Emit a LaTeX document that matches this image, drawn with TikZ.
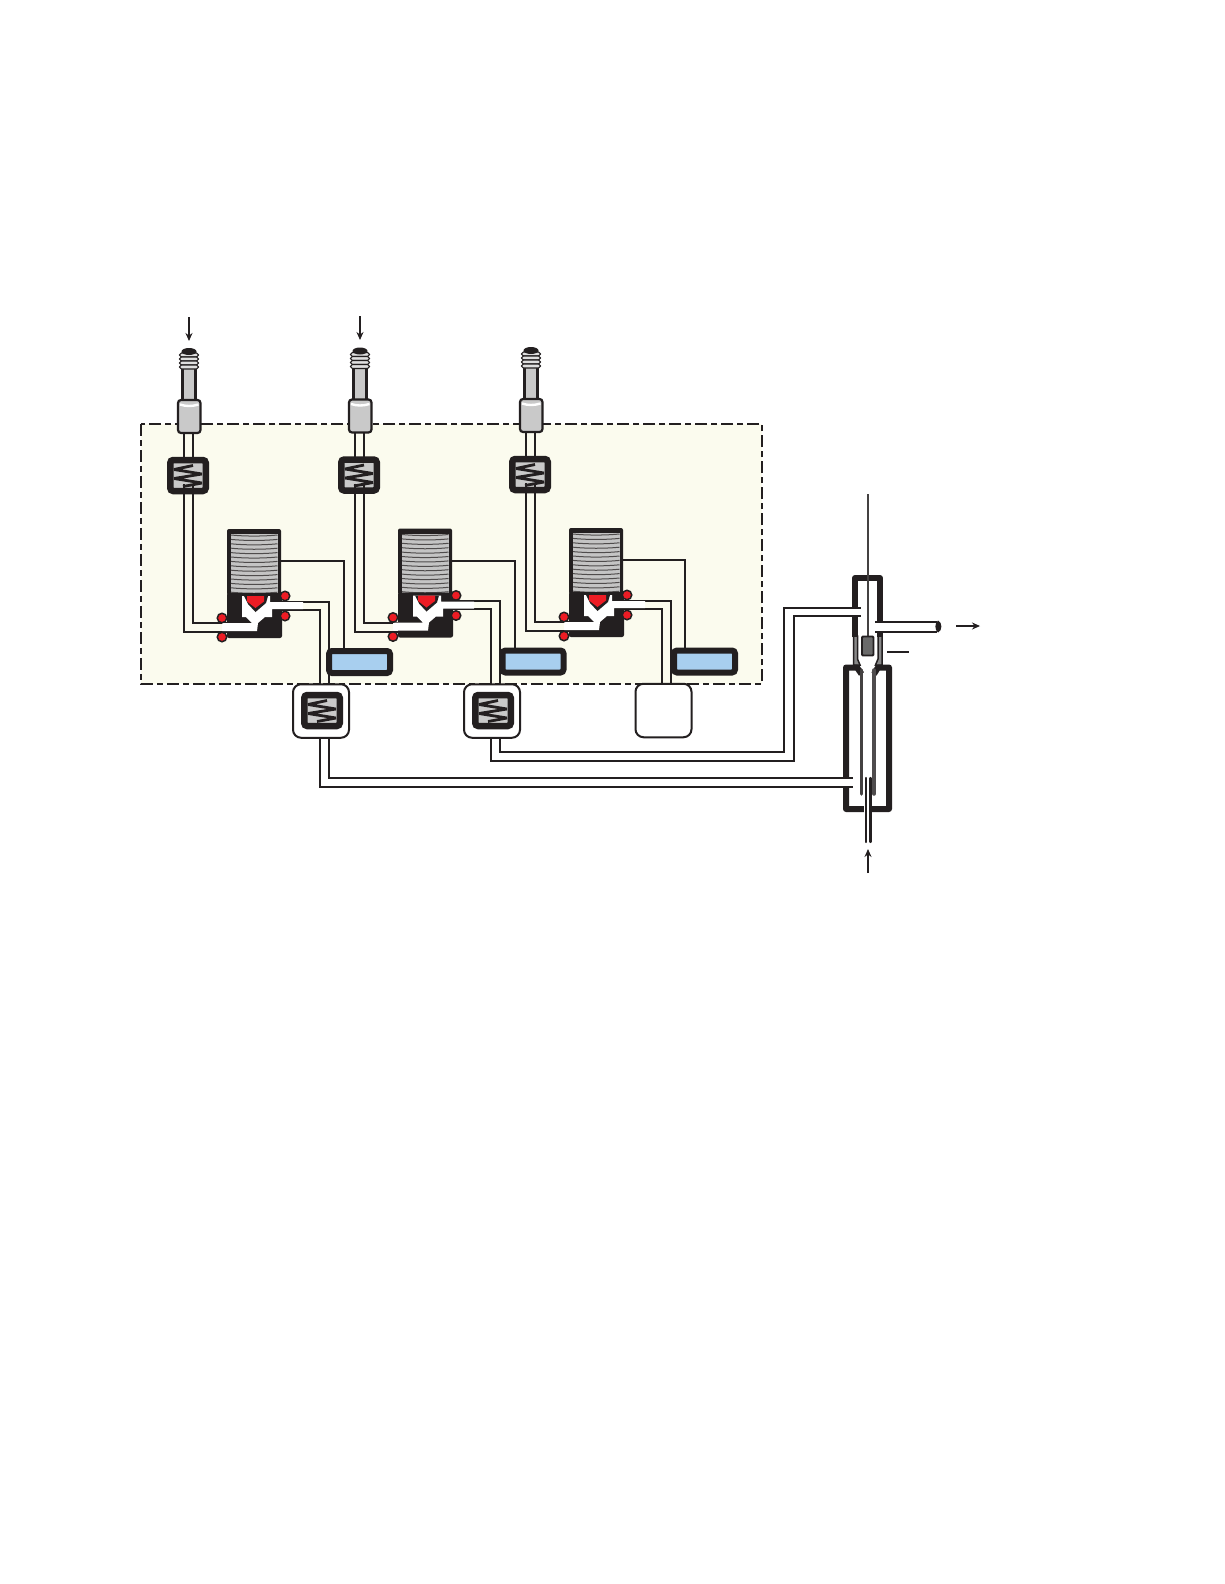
\documentclass[tikz,border=0pt]{standalone}
\usetikzlibrary{calc,arrows.meta}
\definecolor{ink}{HTML}{231F20}
\definecolor{cream}{HTML}{FBFBEE}
\definecolor{redd}{HTML}{ED1C24}
\definecolor{bluef}{HTML}{A8CFEF}
\definecolor{grayf}{HTML}{C9C9C9}
\definecolor{coilf}{HTML}{C4C4C4}
\definecolor{midg}{HTML}{6A6A6A}
\tikzset{
  pipe/.style={draw=ink,line width=2pt,line join=miter},
  wall/.style={draw=ink,line width=6pt,line join=round},
  thinarrow/.style={draw=ink,line width=1.2pt,-{Stealth[length=8pt,width=7pt]}},
  filterbox/.style={draw=ink,fill=grayf,line width=6.5pt,rounded corners=3pt,minimum width=35.5pt,minimum height=31pt,inner sep=0pt,outer sep=0pt},
  blueb/.style={draw=ink,fill=bluef,line width=6pt,rounded corners=3pt,minimum width=61pt,minimum height=22pt,inner sep=0pt,outer sep=0pt},
  housing/.style={draw=ink,fill=white,line width=2pt,rounded corners=8pt,minimum width=56pt,minimum height=53.5pt,inner sep=0pt,outer sep=0pt},
  spring/.style={draw=ink,line width=2.8pt,line join=bevel},
  reddot/.style={circle,draw=ink,fill=redd,line width=1.5pt,minimum size=9.5pt,inner sep=0pt},
  collar/.style={draw=ink,fill=grayf,line width=2.2pt},
}
\newcommand{\zigzag}[1]{%
  \draw[spring] ($(#1)+(5,-10)$)--($(#1)+(-14,-6)$)--($(#1)+(14,-1.5)$)--($(#1)+(-14,3)$)--($(#1)+(14,7.5)$)--($(#1)+(-5,11)$);}
\begin{document}
\begin{tikzpicture}[x=1pt,y=-1pt]
\useasboundingbox (0,0) rectangle (1224,1584);
\fill[white] (0,0) rectangle (1224,1584);
% oven
\draw[draw=ink,fill=cream,line width=2.2pt,dash pattern=on 12pt off 4pt on 6pt off 4pt] (141,424) rectangle (762,684);

\foreach \i/\dx/\dy in {1/0/0,2/171/-0.5,3/342/-1}{
\begin{scope}[shift={(\dx,\dy)}]
  % inlet pipes
  \draw[pipe] (184,432) -- (184,632) -- (232,632);
  \draw[pipe] (193,432) -- (193,623) -- (232,623);
  % outlet pipes
  \draw[pipe] (280,601.5) -- (328.5,601.5) -- (328.5,686);
  \draw[pipe] (280,609.5) -- (319.5,609.5) -- (319.5,686);
  % connector
  \draw[draw=ink,fill=grayf,line width=2.2pt] (182.5,366) rectangle (195.5,402);
  \foreach \t in {353,357,361,365}{\draw[draw=ink,fill=grayf!60!white,line width=1.1pt,rounded corners=1.8pt] (179.5,\t) rectangle (198.5,\t+4);}
  \fill[ink] (189,351.5) ellipse [x radius=7.5,y radius=3.5];
  \draw[collar,rounded corners=3pt] (178,400) rectangle (200.5,433);
  \draw[draw=white,line width=2.4pt] (180,404.5) .. controls (186,406.5) and (192,406.5) .. (198.5,404.5);
  \draw[ink,line width=2.2pt] (178,404) -- (178,410);
  % upper filter
  \node[filterbox] (flt\i) at (188,475.5) {};
  \zigzag{flt\i}
  \draw[pipe] (184,484) -- (184,491) (193,484) -- (193,491);
  % solenoid coil
  \fill[ink,rounded corners=2pt] (227,529) rectangle (281,595);
  \fill[coilf] (231,534) rectangle (277.5,593);
  \foreach \y in {535,539.4,...,593}{\draw[ink!80!white,line width=1pt] (231,\y) .. controls (245,\y+1.4) and (263,\y+1.4) .. (277.5,\y);}
  \coordinate (coilR\i) at (281,561);
  % valve body
  \fill[ink,rounded corners=2pt] (227,593) rectangle (282,638);
  \fill[white] (242,596) -- (270,596) -- (270,602) -- (303,602) -- (303,609) -- (272,609) -- (272,617) -- (265,617) -- (258,623) -- (257,631) -- (222,631) -- (222,623) -- (252,623) -- (246,617) -- (242,617) -- cycle;
  \fill[ink] (244,596) -- (248,604) -- (255.5,612) -- (266,603) -- (268,596) -- cycle;
  \fill[redd] (247,596) -- (264,596) -- (264,601.5) -- (255.5,608) -- (247,601.5) -- cycle;
  \node[reddot] (dA\i) at (222,618) {};
  \node[reddot] (dB\i) at (222,637) {};
  \node[reddot] (dC\i) at (285,596) {};
  \node[reddot] (dD\i) at (285,616) {};
\end{scope}}
% blue sensors
\node[blueb] (blA) at (359.5,662) {};
\node[blueb] (blB) at (533,661.5) {};
\node[blueb] (blC) at (704.5,661.5) {};
% coil wires
\draw[pipe] (coilR1) -| (blA.north -| 344,0);
\draw[pipe] (coilR2) -| (blB.north -| 515,0);
\draw[pipe] (coilR3) -| (blC.north -| 685,0);
% lower filters
\node[housing] (hA) at (321,711) {};
\node[housing] (hB) at (492,711) {};
\node[housing] (hC) at (663.5,710.5) {};
\node[filterbox] (ltA) at (322,710.5) {};
\node[filterbox] (ltB) at (493,710.5) {};
\zigzag{ltA}
\zigzag{ltB}
% long pipes
\draw[pipe] (319.5,738) -- (319.5,787) -- (853,787);
\draw[pipe] (329,738) -- (329,778) -- (853,778);
\draw[pipe] (490.5,738) -- (490.5,761) -- (794,761) -- (794,616) -- (861,616);
\draw[pipe] (499.5,738) -- (499.5,752) -- (784,752) -- (784,608) -- (861,608);
% upper column
\draw[wall,line cap=butt] (855,637) -- (855,578) -- (880,578) -- (880,637);
\fill[white] (851,609) rectangle (860,615);
\fill[white] (875,622.5) rectangle (886,631);
% outlet tube
\draw[pipe] (875,621.5) -- (937,621.5) (875,631.5) -- (937,631.5);
\fill[ink] (938,620.5) .. controls (942.5,622) and (942.5,631) .. (938,632.5) .. controls (934.5,630) and (934.5,623) .. (938,620.5);
% probe
\draw[draw=ink!85!white,line width=2.5pt] (868,494) -- (868,637);
\draw[draw=ink,fill=midg,line width=1.8pt,rounded corners=1pt] (862,636.5) rectangle (873.5,655.5);
\draw[draw=ink,line width=1.5pt,fill=midg!80!white] (853.5,636) -- (857.5,636) -- (857.5,659) -- (860,665) -- (853.5,665) -- cycle;
\draw[draw=ink,line width=1.5pt,fill=midg!80!white] (882,636) -- (878,636) -- (878,659) -- (875.5,665) -- (882,665) -- cycle;
\draw[pipe] (887,652) -- (909,652);
% lower vessel
\draw[wall,line cap=butt] (861.5,674) -- (857,667.5) -- (846,667.5) -- (846,809) -- (889,809) -- (889,667.5) -- (878,667.5) -- (874,674);
\fill[white] (842,779) rectangle (853,786);
\draw[draw=ink!85!white,line width=3.5pt,line cap=round] (861.5,670) -- (861.5,794);
\draw[draw=ink!80!white,line width=3.5pt,line cap=round] (874,670) -- (874,794);
% capillary
\fill[white] (864,779) rectangle (872,812.5);
\draw[draw=ink,line width=2.2pt,line cap=round] (866,778) -- (866,842) (870.5,778) -- (870.5,842);
% flow arrows
\coordinate (aA0) at (189,317); \coordinate (aA1) at (189,341);
\coordinate (aB0) at (360,316); \coordinate (aB1) at (360,340);
\coordinate (aC0) at (956,626); \coordinate (aC1) at (980,626);
\coordinate (aD0) at (868,873); \coordinate (aD1) at (868,849);
\draw[thinarrow] (aA0) -- (aA1);
\draw[thinarrow] (aB0) -- (aB1);
\draw[thinarrow] (aC0) -- (aC1);
\draw[thinarrow] (aD0) -- (aD1);
\end{tikzpicture}
\end{document}
